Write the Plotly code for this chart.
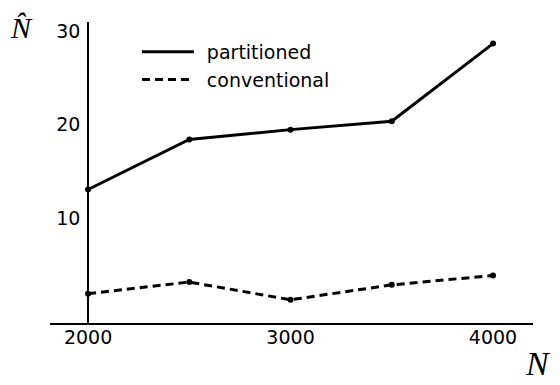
import plotly.graph_objects as go

# Data
N_values = [2000, 2500, 3000, 3500, 4000]
partitioned = [13.05, 18.4, 19.45, 20.35, 28.65]
conventional = [1.9, 3.15, 1.25, 2.85, 3.85]
x_ticks = [2000, 3000, 4000]
y_ticks = [10, 20, 30]
series_names = ["partitioned", "conventional"]

FONT = "DejaVu Sans"
PAD = "\u00a0\u200a"  # small gap between legend sample and its label

fig = go.Figure()
fig.add_trace(go.Scatter(
    x=N_values, y=partitioned, name=PAD + series_names[0], mode="lines",
    line=dict(color="black", width=3),
))
fig.add_trace(go.Scatter(
    x=N_values, y=conventional, name=PAD + series_names[1], mode="lines",
    line=dict(color="black", width=3, dash="8px,5px"),
))
fig.add_trace(go.Scatter(
    x=N_values, y=partitioned, mode="markers", showlegend=False,
    marker=dict(color="black", size=6),
))
fig.add_trace(go.Scatter(
    x=N_values, y=conventional, mode="markers", showlegend=False,
    marker=dict(color="black", size=6),
))

# The page body adds an 8px offset; figure is sized to fit the window.
fig.update_layout(
    width=552, height=377,
    margin=dict(l=42, r=27, t=14, b=62),
    plot_bgcolor="white", paper_bgcolor="white",
    font=dict(family=FONT, size=19, color="black"),
    showlegend=True,
    legend=dict(x=0.18, y=0.9635, xanchor="left", yanchor="top",
                bgcolor="rgba(0,0,0,0)", itemwidth=52,
                font=dict(family=FONT, size=19, color="black"),
                tracegroupgap=0),
    xaxis=dict(range=[1812, 4197.5], tickvals=x_ticks, ticks="",
               showgrid=False, zeroline=False, showline=True,
               linecolor="black", linewidth=1.5, ticklabelstandoff=-4,
               tickfont=dict(family=FONT, size=19, color="black")),
    yaxis=dict(range=[-1.23, 30.96], tickvals=y_ticks, ticks="",
               showgrid=False, zeroline=False, showline=True,
               linecolor="black", linewidth=1.5,
               anchor="free", position=0.0787, ticklabelstandoff=3,
               tickfont=dict(family=FONT, size=19, color="black")),
    annotations=[
        dict(text="<i>N\u0302</i>", xref="paper", yref="paper",
             x=-0.058, y=0.982, xanchor="center", yanchor="middle",
             showarrow=False,
             font=dict(family="Liberation Serif", size=30, color="black")),
        dict(text="<i>N</i>", xref="paper", yref="paper",
             x=1.01, y=-0.2, xanchor="center", yanchor="bottom",
             showarrow=False, borderpad=0,
             font=dict(family="Liberation Serif", size=34, color="black")),
    ],
)

fig.write_html("out.html")
